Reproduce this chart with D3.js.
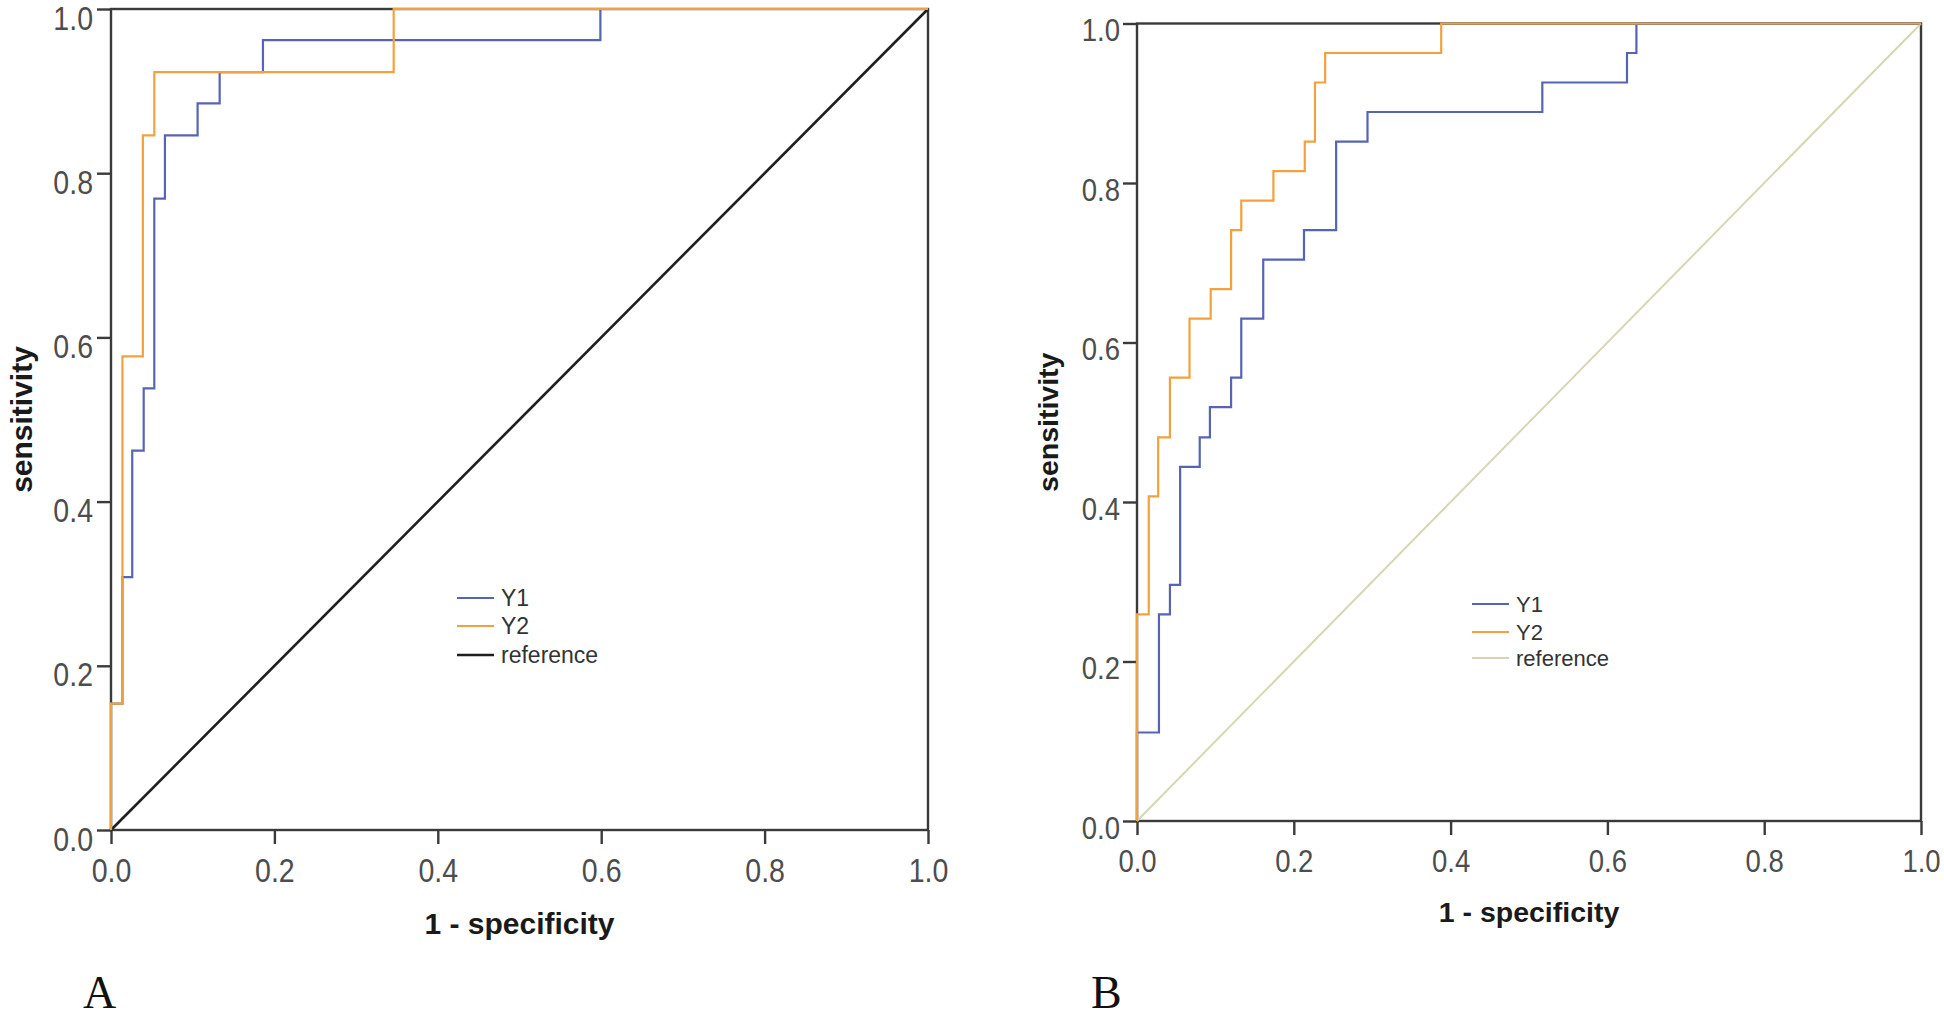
<!DOCTYPE html>
<html>
<head>
<meta charset="utf-8">
<script src="https://cdn.jsdelivr.net/npm/d3@7"></script>
<style>
  html, body { margin: 0; padding: 0; background: #ffffff; }
  svg { display: block; }
</style>
</head>
<body>
<svg id="chart" width="1944" height="1020"></svg>
<script>
// ---------- data ----------
const tickValues = [0, 0.2, 0.4, 0.6, 0.8, 1.0];
const tickLabels = ["0.0", "0.2", "0.4", "0.6", "0.8", "1.0"];
const seriesNames = ["Y1", "Y2", "reference"];
const xTitle = "1 - specificity";
const yTitle = "sensitivity";
const panelLetters = ["A", "B"];

// Panel A ROC step vertices (1 - specificity, sensitivity)
const a_Y1_fpr = [0, 0, 0.014, 0.026, 0.040, 0.053, 0.066, 0.106, 0.133, 0.186, 0.599, 1];
const a_Y1_tpr = [0, 0.154, 0.308, 0.462, 0.538, 0.769, 0.846, 0.885, 0.923, 0.962, 1, 1];
const a_Y2_fpr = [0, 0, 0.014, 0.039, 0.053, 0.346, 1];
const a_Y2_tpr = [0, 0.154, 0.577, 0.846, 0.923, 1, 1];

// Panel B ROC step vertices
const b_Y1_fpr = [0, 0, 0.028, 0.042, 0.055, 0.080, 0.093, 0.120, 0.133, 0.161, 0.213, 0.254, 0.294, 0.517, 0.625, 0.637, 1];
const b_Y1_tpr = [0, 0.111, 0.259, 0.296, 0.444, 0.481, 0.519, 0.556, 0.630, 0.704, 0.741, 0.852, 0.889, 0.926, 0.963, 1, 1];
const b_Y2_fpr = [0, 0, 0.015, 0.027, 0.042, 0.067, 0.094, 0.120, 0.133, 0.174, 0.214, 0.227, 0.240, 0.388, 1];
const b_Y2_tpr = [0, 0.259, 0.407, 0.481, 0.556, 0.630, 0.667, 0.741, 0.778, 0.815, 0.852, 0.926, 0.963, 1, 1];

const refLine_fpr = [0, 1];
const refLine_tpr = [0, 1];

// ---------- drawing ----------
const svg = d3.select("#chart");
const FONT = "'Liberation Sans', Arial, Helvetica, sans-serif";

const panels = [
  {
    letter: panelLetters[0],
    left: 111, right: 928, top: 9, bottom: 830,
    tickFont: 34, tickScale: 0.84, xLabelDy: 52, yLabelGap: 18, yLabelDy: 20,
    titleFont: 30, xTitleY: 934, yTitleX: 32,
    legendX: 457, legendYs: [598, 626, 655], legendFont: 23,
    series: [
      { fpr: a_Y1_fpr, tpr: a_Y1_tpr, color: "#5565b2", width: 2.2 },
      { fpr: a_Y2_fpr, tpr: a_Y2_tpr, color: "#f2a23c", width: 2.2 }
    ],
    refColor: "#1f1f1f", refWidth: 2.6,
    letterX: 83, letterY: 1008
  },
  {
    letter: panelLetters[1],
    left: 1137, right: 1921, top: 23.5, bottom: 821,
    tickFont: 32, tickScale: 0.86, xLabelDy: 51, yLabelGap: 17, yLabelDy: 17,
    titleFont: 28.5, xTitleY: 922, yTitleX: 1058,
    legendX: 1472, legendYs: [604, 632, 658], legendFont: 22,
    series: [
      { fpr: b_Y1_fpr, tpr: b_Y1_tpr, color: "#5565b2", width: 2.2 },
      { fpr: b_Y2_fpr, tpr: b_Y2_tpr, color: "#f2a23c", width: 2.2 }
    ],
    refColor: "#d6d7b2", refWidth: 2,
    letterX: 1091, letterY: 1008
  }
];

panels.forEach(p => {
  const x = d3.scaleLinear().domain([0, 1]).range([p.left, p.right]);
  const y = d3.scaleLinear().domain([0, 1]).range([p.bottom, p.top]);
  const g = svg.append("g");

  // axes
  const fmt = (d, i) => tickLabels[i];
  const xAxis = g.append("g")
    .attr("transform", `translate(0,${p.bottom})`)
    .call(d3.axisBottom(x).tickValues(tickValues).tickFormat(fmt).tickSize(14).tickSizeOuter(0));
  const yAxis = g.append("g")
    .attr("transform", `translate(${p.left},0)`)
    .call(d3.axisLeft(y).tickValues(tickValues).tickFormat(fmt).tickSize(14).tickSizeOuter(0));

  [xAxis, yAxis].forEach(ax => {
    ax.select(".domain").remove();
    ax.selectAll(".tick line").attr("stroke", "#3a3a3a").attr("stroke-width", 2.4);
    ax.selectAll(".tick text")
      .attr("fill", "#4d4d4d")
      .style("font-family", FONT)
      .style("font-size", p.tickFont + "px");
  });
  xAxis.selectAll(".tick text")
    .attr("y", p.xLabelDy).attr("dy", null)
    .attr("transform", `scale(${p.tickScale},1)`);
  yAxis.selectAll(".tick text")
    .attr("x", -p.yLabelGap / p.tickScale).attr("dy", null).attr("y", p.yLabelDy)
    .attr("transform", `scale(${p.tickScale},1)`);

  // frame
  g.append("rect")
    .attr("x", p.left).attr("y", p.top)
    .attr("width", p.right - p.left).attr("height", p.bottom - p.top)
    .attr("fill", "none").attr("stroke", "#3a3a3a").attr("stroke-width", 2.4);

  // reference
  const line = d3.line().x(d => x(d[0])).y(d => y(d[1]));
  g.append("path")
    .datum(refLine_fpr.map((v, i) => [v, refLine_tpr[i]]))
    .attr("d", line)
    .attr("fill", "none").attr("stroke", p.refColor).attr("stroke-width", p.refWidth);

  // ROC curves
  const stepLine = d3.line().x(d => x(d[0])).y(d => y(d[1])).curve(d3.curveStepAfter);
  p.series.forEach(s => {
    g.append("path")
      .datum(s.fpr.map((v, i) => [v, s.tpr[i]]))
      .attr("d", stepLine)
      .attr("fill", "none").attr("stroke", s.color)
      .attr("stroke-width", s.width).attr("stroke-linejoin", "miter");
  });

  // axis titles
  g.append("text")
    .attr("x", (p.left + p.right) / 2).attr("y", p.xTitleY)
    .attr("text-anchor", "middle")
    .style("font-family", FONT).style("font-weight", "bold")
    .style("font-size", p.titleFont + "px").attr("fill", "#1a1a1a")
    .text(xTitle);
  g.append("text")
    .attr("transform", `translate(${p.yTitleX},${(p.top + p.bottom) / 2}) rotate(-90)`)
    .attr("text-anchor", "middle")
    .style("font-family", FONT).style("font-weight", "bold")
    .style("font-size", p.titleFont + "px").attr("fill", "#1a1a1a")
    .text(yTitle);

  // legend
  const colors = [p.series[0].color, p.series[1].color, p.refColor];
  const widths = [p.series[0].width, p.series[1].width, p.refWidth];
  seriesNames.forEach((name, i) => {
    const ly = p.legendYs[i];
    g.append("line")
      .attr("x1", p.legendX).attr("x2", p.legendX + 37)
      .attr("y1", ly).attr("y2", ly)
      .attr("stroke", colors[i]).attr("stroke-width", widths[i]);
    g.append("text")
      .attr("x", p.legendX + 44).attr("y", ly + 8)
      .style("font-family", FONT).style("font-size", p.legendFont + "px")
      .attr("fill", "#333333")
      .text(name);
  });

  // panel letter
  svg.append("text")
    .attr("x", p.letterX).attr("y", p.letterY)
    .style("font-family", "'Liberation Serif', 'Times New Roman', serif")
    .style("font-size", "46px").attr("fill", "#111")
    .text(p.letter);
});
</script>
</body>
</html>
